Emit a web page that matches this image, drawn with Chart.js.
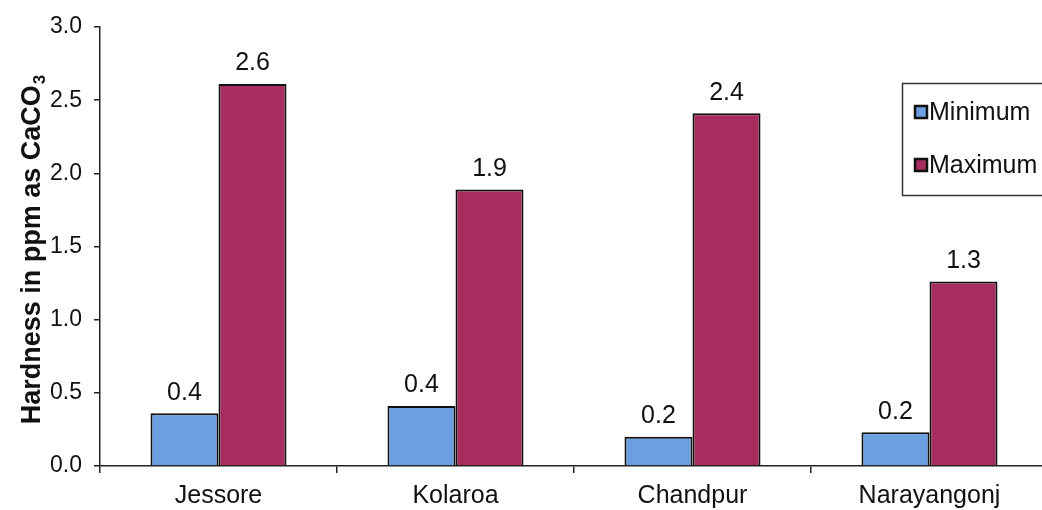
<!DOCTYPE html>
<html>
<head>
<meta charset="utf-8">
<script src="https://cdn.jsdelivr.net/npm/chart.js@4"></script>
<style>
  html, body { margin: 0; padding: 0; background: #fff; overflow: hidden; }
  #c { display: block; }
</style>
</head>
<body>
<canvas id="c" width="1050" height="510"></canvas>
<script>
// Water hardness per site
const sites = ['Jessore', 'Kolaroa', 'Chandpur', 'Narayangonj'];
const minimumValues = [0.36, 0.41, 0.20, 0.23];
const maximumValues = [2.61, 1.89, 2.41, 1.26];
const yTicks = [0.0, 0.5, 1.0, 1.5, 2.0, 2.5, 3.0];
const seriesNames = ['Minimum', 'Maximum'];

const FONT = '"Liberation Sans", Arial, sans-serif';

// Value labels above each bar
const valueLabels = {
  id: 'valueLabels',
  afterDatasetsDraw(chart) {
    const ctx = chart.ctx;
    ctx.save();
    ctx.font = '25px ' + FONT;
    ctx.fillStyle = '#111';
    ctx.textAlign = 'center';
    ctx.textBaseline = 'bottom';
    chart.data.datasets.forEach((ds, i) => {
      chart.getDatasetMeta(i).data.forEach((bar, j) => {
        ctx.fillText(ds.data[j].toFixed(1), bar.x, bar.y - 8);
      });
    });
    ctx.restore();
  }
};

// Vertical axis title with subscript
const axisTitle = {
  id: 'axisTitle',
  afterDraw(chart) {
    const ctx = chart.ctx;
    ctx.save();
    ctx.translate(31, 250);
    ctx.rotate(-Math.PI / 2);
    ctx.fillStyle = '#111';
    ctx.textBaseline = 'alphabetic';
    ctx.textAlign = 'left';
    const main = 'Hardness in ppm as CaCO';
    const sub = '3';
    ctx.font = 'bold 27px ' + FONT;
    const w1 = ctx.measureText(main).width;
    ctx.font = 'bold 17px ' + FONT;
    const w2 = ctx.measureText(sub).width;
    const x0 = -(w1 + w2) / 2;
    ctx.font = 'bold 27px ' + FONT;
    ctx.fillText(main, x0, 9);
    ctx.font = 'bold 17px ' + FONT;
    ctx.fillText(sub, x0 + w1 + 1, 14);
    ctx.restore();
  }
};

// Boxed legend at the upper right
const boxLegend = {
  id: 'boxLegend',
  afterDraw(chart) {
    const ctx = chart.ctx;
    ctx.save();
    ctx.strokeStyle = '#333';
    ctx.lineWidth = 1.5;
    ctx.strokeRect(902.5, 83.5, 150, 112);
    const rows = [112, 165];
    ctx.font = '25px ' + FONT;
    ctx.textBaseline = 'middle';
    ctx.textAlign = 'left';
    chart.data.datasets.forEach((ds, i) => {
      const y = rows[i];
      ctx.fillStyle = ds.backgroundColor;
      ctx.fillRect(915, y - 6, 12, 12);
      ctx.strokeStyle = '#111';
      ctx.lineWidth = 2.5;
      ctx.strokeRect(915, y - 6, 12, 12);
      ctx.fillStyle = '#111';
      ctx.fillText(ds.label, 929, y + 1);
    });
    ctx.restore();
  }
};

new Chart(document.getElementById('c'), {
  type: 'bar',
  data: {
    labels: sites,
    datasets: [
      {
        label: seriesNames[0],
        data: minimumValues,
        backgroundColor: '#6A9FE2',
        borderColor: '#111',
        borderWidth: 2
      },
      {
        label: seriesNames[1],
        data: maximumValues,
        backgroundColor: '#A62D5E',
        borderColor: '#111',
        borderWidth: 2
      }
    ]
  },
  options: {
    responsive: false,
    animation: false,
    events: [],
    layout: { padding: { top: 27, right: 2, bottom: 0, left: 0 } },
    datasets: {
      bar: { categoryPercentage: 0.574, barPercentage: 1.0 }
    },
    plugins: {
      legend: { display: false },
      tooltip: { enabled: false }
    },
    scales: {
      x: {
        offset: true,
        grid: {
          offset: true,
          drawOnChartArea: false,
          drawTicks: true,
          tickLength: 7,
          color: '#222',
          lineWidth: 1.5
        },
        border: { display: true, color: '#222', width: 1.5 },
        ticks: {
          color: '#111',
          font: { family: FONT, size: 25 },
          padding: 8
        },
        afterFit(scale) { scale.height = 44; }
      },
      y: {
        min: 0,
        max: 3,
        afterBuildTicks(scale) {
          scale.ticks = yTicks.map(v => ({ value: v }));
        },
        grid: {
          drawOnChartArea: false,
          drawTicks: true,
          tickLength: 6,
          color: '#222',
          lineWidth: 1.5
        },
        border: { display: true, color: '#222', width: 1.5 },
        ticks: {
          color: '#111',
          font: { family: FONT, size: 23 },
          padding: 12,
          callback: v => Number(v).toFixed(1)
        },
        afterFit(scale) { scale.width = 100; }
      }
    }
  },
  plugins: [valueLabels, axisTitle, boxLegend]
});
</script>
</body>
</html>
